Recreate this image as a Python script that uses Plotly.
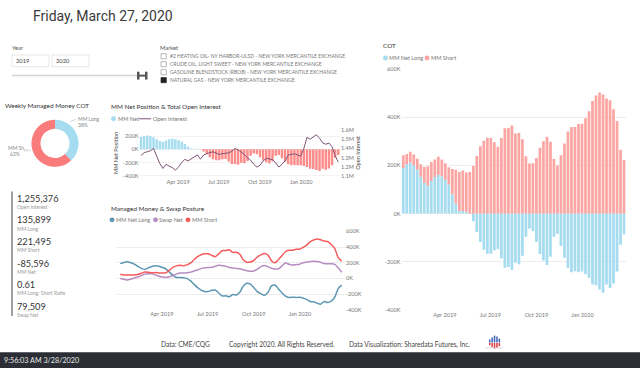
import pandas as pd
import plotly.graph_objects as go

# ---------------- data ----------------
weeks = pd.date_range("2019-01-08", periods=64, freq="7D")

mm_net_k = [189, 204, 212, 200, 183, 153, 128, 115, 135, 152,
            160, 155, 140, 120, 80, 42, 12, 11, 8, -2,
            -32, -76, -118, -150, -167, -167, -152, -148, -185, -224,
            -221, -234, -204, -210, -175, -96, -62, -73, -118, -168,
            -194, -213, -179, -96, -84, -134, -183, -226, -243, -239,
            -243, -240, -251, -267, -294, -297, -315, -328, -294, -308,
            -290, -240, -129, -85.596]

mm_short_k = [53, 43, 44, 45, 44, 51, 65, 81, 79, 72,
              75, 69, 68, 72, 105, 140, 160, 167, 162, 172,
              197, 238, 279, 302, 314, 313, 295, 277, 313, 353,
              355, 365, 332, 334, 308, 237, 207, 208, 230, 273,
              300, 318, 298, 226, 199, 242, 290, 340, 359, 359,
              371, 372, 395, 424, 466, 489, 502, 493, 477, 470,
              432, 384, 264, 221.495]

swap_net_k = [0, -10, -20, -10, 5, 18, 35, 55, 60, 58,
              45, 28, 18, 12, 22, 38, 55, 68, 70, 72,
              80, 95, 108, 125, 135, 140, 141, 155, 167, 162,
              155, 140, 133, 128, 122, 110, 98, 90, 95, 118,
              150, 165, 150, 130, 120, 122, 160, 196, 180, 170,
              175, 180, 200, 210, 215, 220, 215, 205, 190, 187,
              188, 180, 135, 79.509]

open_interest_m = [1.325, 1.355, 1.365, 1.375, 1.40, 1.31, 1.24, 1.185, 1.23, 1.21,
                   1.195, 1.167, 1.20, 1.25, 1.283, 1.266, 1.29, 1.315, 1.33, 1.285,
                   1.33, 1.345, 1.353, 1.365, 1.35, 1.336, 1.345, 1.353, 1.353, 1.37,
                   1.40, 1.385, 1.36, 1.336, 1.30, 1.275, 1.23, 1.20, 1.22, 1.266,
                   1.295, 1.29, 1.28, 1.245, 1.20, 1.23, 1.266, 1.33, 1.34, 1.343,
                   1.33, 1.318, 1.40, 1.52, 1.50, 1.52, 1.547, 1.51, 1.46, 1.445,
                   1.459, 1.42, 1.318, 1.255376]

date_tick_vals = ["2019-04-01", "2019-07-01", "2019-10-01", "2020-01-01"]
date_tick_text = ["Apr 2019", "Jul 2019", "Oct 2019", "Jan 2020"]
k_ticks = [-400000, -200000, 0, 200000, 400000, 600000]
net_ticks = [-400000, -200000, 0, 200000]
oi_ticks = [1.1e6, 1.2e6, 1.3e6, 1.4e6, 1.5e6, 1.6e6]
markets = ["#2 HEATING OIL- NY HARBOR-ULSD - NEW YORK MERCANTILE EXCHANGE",
           "CRUDE OIL, LIGHT SWEET - NEW YORK MERCANTILE EXCHANGE",
           "GASOLINE BLENDSTOCK (RBOB) - NEW YORK MERCANTILE EXCHANGE",
           "NATURAL GAS - NEW YORK MERCANTILE EXCHANGE"]
selected_market = "NATURAL GAS - NEW YORK MERCANTILE EXCHANGE"
years = ["2019", "2020"]

mm_net = [v * 1000 for v in mm_net_k]
mm_short = [v * 1000 for v in mm_short_k]
swap_net = [v * 1000 for v in swap_net_k]
oi = [v * 1e6 for v in open_interest_m]
mm_long_last = mm_net[-1] + mm_short[-1]

def kfmt(v):
    return f"{int(round(v / 1000))}K"

def mfmt(v):
    return f"{v / 1e6:.1f}M"

# ---------------- style ----------------
W, H = 640, 371
FONT = "Segoe UI, Lato, Liberation Sans, sans-serif"
BLUE = "#a6dcef"
RED = "#fba6a3"
RED_NET = "#fb8c8a"
DONUT_RED = "#fa7b7b"
OI_C = "#7d5476"
L_NET = "#5e97b3"
L_SWAP = "#b88cc2"
L_SHORT = "#f55b5b"
TICK = dict(size=5.6, color="#777", family=FONT)

def X(px):
    return px / W

def Y(py):
    return 1 - py / H

annotations = []
shapes = []

def txt(x, y, s, size=6, color="#666", anchor="left", family=FONT, **kw):
    annotations.append(dict(x=X(x), y=Y(y), xref="paper", yref="paper", text=s,
                            showarrow=False, xanchor=anchor, yanchor="middle", borderpad=0,
                            font=dict(size=size, color=color, family=family), **kw))

def rect(x0, y0, x1, y1, fill=None, line=None, lw=1):
    shapes.append(dict(type="rect", xref="paper", yref="paper",
                       x0=X(x0), x1=X(x1), y0=Y(y1), y1=Y(y0),
                       fillcolor=fill if fill else "rgba(0,0,0,0)",
                       line=dict(color=line if line else "rgba(0,0,0,0)", width=lw), layer="above"))

def seg(x0, y0, x1, y1, color, lw=1):
    shapes.append(dict(type="line", xref="paper", yref="paper",
                       x0=X(x0), x1=X(x1), y0=Y(y0), y1=Y(y1),
                       line=dict(color=color, width=lw), layer="above"))

def dot(cx, cy, color, r=2.5):
    shapes.append(dict(type="circle", xref="paper", yref="paper",
                       x0=X(cx - r), x1=X(cx + r), y0=Y(cy + r), y1=Y(cy - r),
                       fillcolor=color, line=dict(width=0), layer="above"))

fig = go.Figure()

# ---------------- chart 1: MM net bars + OI line ----------------
fig.add_trace(go.Bar(x=weeks, y=mm_net, name="MM Net", xaxis="x", yaxis="y",
                     marker=dict(color=[BLUE if v >= 0 else RED_NET for v in mm_net], line=dict(width=0)),
                     showlegend=False))
fig.add_trace(go.Scatter(x=weeks, y=oi, name="Open Interest", xaxis="x", yaxis="y2", mode="lines",
                         line=dict(color=OI_C, width=1), showlegend=False))

# ---------------- chart 2: posture lines ----------------
for vals, name, col in [(mm_net, "MM Net Long", L_NET), (swap_net, "Swap Net", L_SWAP),
                        (mm_short, "MM Short", L_SHORT)]:
    fig.add_trace(go.Scatter(x=weeks, y=vals, name=name, xaxis="x2", yaxis="y3", mode="lines",
                             line=dict(color=col, width=1.5, shape="spline", smoothing=0.8),
                             showlegend=False))

# ---------------- chart 3: COT stacked ----------------
fig.add_trace(go.Bar(x=weeks, y=mm_net, name="MM Net Long", xaxis="x3", yaxis="y4",
                     marker=dict(color=BLUE, line=dict(width=0)), showlegend=False))
fig.add_trace(go.Bar(x=weeks, y=mm_short, name="MM Short", xaxis="x3", yaxis="y4",
                     marker=dict(color=RED, line=dict(width=0)), showlegend=False))

# ---------------- donut ----------------
fig.add_trace(go.Pie(labels=["MM Long", "MM Short"], values=[mm_long_last, mm_short[-1]],
                     hole=0.62, sort=False, direction="clockwise", textinfo="none",
                     marker=dict(colors=[BLUE, DONUT_RED], line=dict(width=0)),
                     domain=dict(x=[X(31), X(79)], y=[Y(166), Y(118)]), showlegend=False))

pct_long = round(100 * mm_long_last / (mm_long_last + mm_short[-1]))
pct_short = 100 - pct_long

# ---------------- axes ----------------
xr1 = ["2019-01-04 12:00", "2020-03-27 12:00"]
xr2 = ["2019-01-01 12:00", "2020-03-30 12:00"]
common_x = dict(type="date", tickvals=date_tick_vals, ticktext=date_tick_text, tickfont=TICK,
                showgrid=False, zeroline=False, showline=False, ticks="", fixedrange=True)

layout = dict(
    width=W, height=H, margin=dict(l=0, r=0, t=0, b=0),
    paper_bgcolor="white", plot_bgcolor="rgba(0,0,0,0)",
    barmode="relative", bargap=0.22, font=dict(family=FONT),
    xaxis=dict(domain=[X(139.4), X(339.9)], range=xr1, anchor="y", **common_x),
    yaxis=dict(domain=[Y(176.5), Y(127)], range=[-422000, 315000], tickvals=net_ticks,
               ticktext=[kfmt(v) for v in net_ticks], tickfont=TICK, showgrid=True,
               gridcolor="#f2f2f2", zeroline=False, ticks="", anchor="x",
               title=dict(text="MM Net Position", font=dict(size=5.6, color="#444"), standoff=3)),
    yaxis2=dict(overlaying="y", side="right", anchor="x", range=[1.0916e6, 1.6137e6],
                tickvals=oi_ticks, ticktext=[mfmt(v) for v in oi_ticks], tickfont=TICK,
                showgrid=False, zeroline=False, ticks="",
                title=dict(text="Open Interest", font=dict(size=5.6, color="#444"), standoff=3)),
    xaxis2=dict(domain=[X(117), X(345)], range=xr2, anchor="y3", **common_x),
    yaxis3=dict(domain=[Y(311.7), Y(231.7)], range=[-400000, 600000], side="right", anchor="x2",
                tickvals=k_ticks, ticktext=[kfmt(v) for v in k_ticks], tickfont=TICK,
                showgrid=True, gridcolor="#ececec", zeroline=False, ticks=""),
    xaxis3=dict(domain=[X(401.5), X(625.8)], range=xr1, anchor="y4", **common_x),
    yaxis4=dict(domain=[Y(312), Y(66)], range=[-400000, 600000], anchor="x3",
                tickvals=k_ticks, ticktext=[kfmt(v) for v in k_ticks], tickfont=TICK,
                showgrid=True, gridcolor="#ededed", zeroline=False, ticks=""),
)

# ---------------- header ----------------
txt(32, 12, "Friday, March 27, 2020", size=14, color="#3a3a3a", family="Roboto, DejaVu Sans")
txt(11, 44, "Year", size=5.8, color="#555")
for i, yv in enumerate(years):
    x0 = 12 + i * 40
    rect(x0, 52, x0 + 37, 64, fill="white", line="#e1e1e1", lw=0.8)
    txt(x0 + 3, 58, yv, size=5.8, color="#444")
seg(12, 73, 139, 73, "#d4d4d4", 1.5)
rect(137, 69, 139.5, 77, fill="#555")
rect(145, 69, 147.5, 77, fill="#555")
seg(139, 73, 145, 73, "#555", 2)

txt(159, 44, "Market", size=5.8, color="#555")
for i, m in enumerate(markets):
    yy = 53.3 + i * 8.1
    rect(161, yy - 2.6, 166.3, yy + 2.6, fill="#222" if m == selected_market else "white",
         line="#9a9a9a" if m != selected_market else "#222", lw=0.7)
    txt(169, yy, m, size=5, color="#777")

# ---------------- donut panel ----------------
txt(4, 103, "Weekly Managed Money COT", size=6.4, color="#333")
txt(77, 117, "MM Long", size=5, color="#888")
txt(77, 123, f"{pct_long}%", size=5, color="#888")
txt(7, 147, "MM Sh...", size=5, color="#888")
txt(9, 153, f"{pct_short}%", size=5, color="#888")
seg(70, 120, 76, 117.5, "#bbb", 0.6)
seg(24, 150, 31, 149, "#bbb", 0.6)

# ---------------- stats ----------------
rect(11, 191, 13, 318, fill="#a0a0a0")
stats = [(f"{oi[-1]:,.0f}", "Open Interest"),
         (f"{mm_long_last:,.0f}", "MM Long"),
         (f"{mm_short[-1]:,.0f}", "MM Short"),
         (f"{mm_net[-1]:,.0f}", "MM Net"),
         (f"{mm_long_last / mm_short[-1]:.2f}", "MM Long: Short Ratio"),
         (f"{swap_net[-1]:,.0f}", "Swap Net")]
for i, (v, lab) in enumerate(stats):
    yy = 198 + i * 22
    txt(16, yy, v, size=9.2, color="#333")
    txt(16, yy + 9, lab, size=5, color="#9a9a9a")

# ---------------- chart titles & legends ----------------
txt(110, 104, "MM Net Position & Total Open Interest", size=6.4, color="#333")
dot(113.5, 117, BLUE)
txt(116.5, 117, "MM Net", size=5.6, color="#777")
seg(139, 117, 151, 117, OI_C, 1)
txt(152, 117, "Open Interest", size=5.6, color="#777")

txt(110, 208, "Managed Money & Swap Posture", size=6.4, color="#333")
for cx, col, lab in [(112, L_NET, "MM Net Long"), (155.5, L_SWAP, "Swap Net"), (188, L_SHORT, "MM Short")]:
    dot(cx, 220, col)
    txt(cx + 2.8, 220, lab, size=5.6, color="#777")

txt(382, 42, "COT", size=6.4, color="#333")
for cx, col, lab in [(385.5, BLUE, "MM Net Long"), (427, RED, "MM Short")]:
    dot(cx, 55, col)
    txt(cx + 2.8, 55, lab, size=5.6, color="#777")

# ---------------- footer ----------------
txt(160, 347, "Data: CME/CQG", size=6.6, color="#444")
txt(228, 347, "Copyright 2020. All Rights Reserved.", size=6.6, color="#444")
txt(348, 347, "Data Visualization: Sharedata Futures, Inc.", size=6.6, color="#444")
logo_h = [3, 5, 7, 6, 4]
for i, hh in enumerate(logo_h):
    x0 = 489 + i * 2.4
    rect(x0, 345 - hh, x0 + 1.5, 345, fill="#3f64b5")
    rect(x0, 345.5, x0 + 1.5, 345.5 + (hh * 0.8), fill="#e23c3c")
seg(485, 350.5, 503, 350.5, "#c9c9c9", 0.6)

rect(0, 355, 640, 371, fill="#2b2f35")
txt(3, 363, "9:56:03 AM 3/28/2020", size=7.2, color="#e8e8e8")

layout["annotations"] = annotations
layout["shapes"] = shapes
fig.update_layout(**layout)
fig.write_html("out.html", config={"displayModeBar": False, "staticPlot": True},
               post_script="document.body.style.margin='0';document.body.style.padding='0';"
                           "document.body.style.overflow='hidden';")
